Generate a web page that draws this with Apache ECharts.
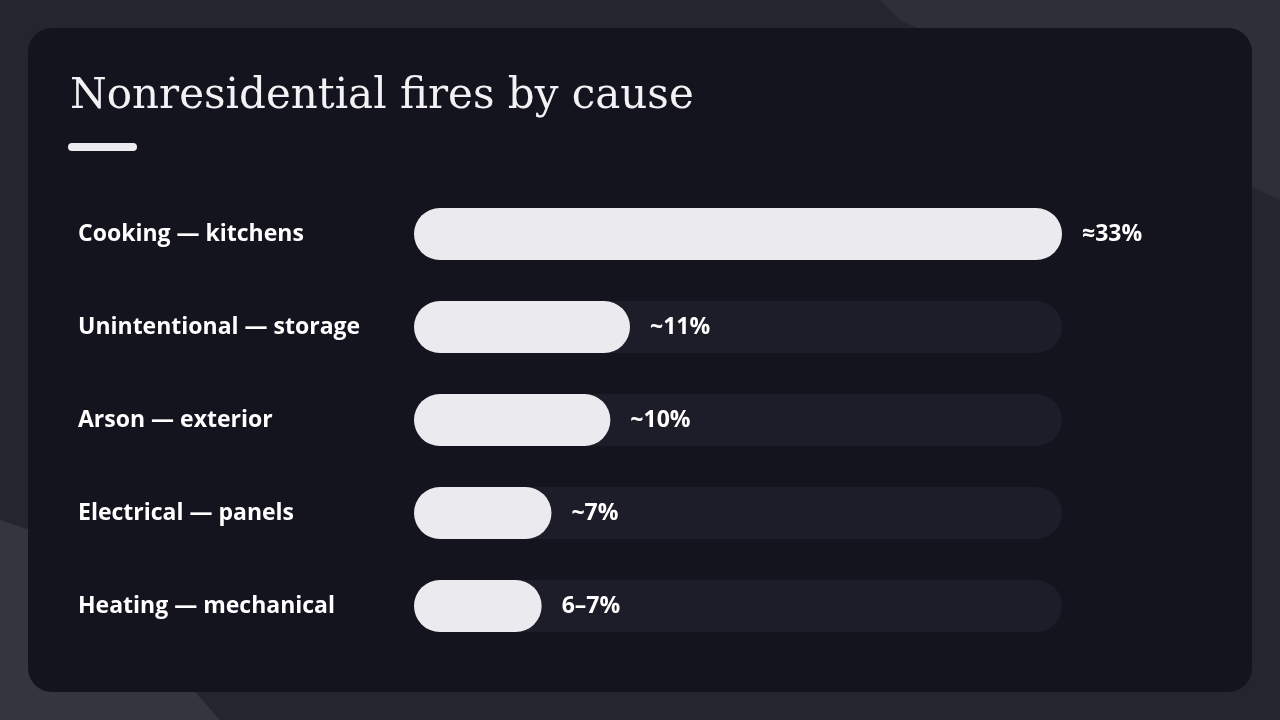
<!DOCTYPE html>
<html><head><meta charset="utf-8">
<script src="https://cdn.jsdelivr.net/npm/echarts@6/dist/echarts.min.js"></script>
<style>
html,body{margin:0;padding:0;background:#24262d;}
#chart{width:1280px;height:720px;}
</style></head>
<body><div id="chart"></div>
<script>
const categories = ['Cooking — kitchens', 'Unintentional — storage', 'Arson — exterior', 'Electrical — panels', 'Heating — mechanical']
const values = [33, 11, 10, 7, 6.5]
const valueLabels = ['≈33%', '~11%', '~10%', '~7%', '6–7%']
const trackMax = 33

const chart = echarts.init(document.getElementById('chart'))
chart.setOption({
  backgroundColor: '#24262d',
  graphic: [
    { type: 'polygon', shape: { points: [[880, 0], [1280, 0], [1280, 200], [900, 20]] }, style: { fill: '#2e3037' }, silent: true },
    { type: 'polygon', shape: { points: [[0, 520], [60, 540], [220, 720], [0, 720]] }, style: { fill: '#34363d' }, silent: true },
    { type: 'rect', shape: { x: 28, y: 28, width: 1224, height: 664, r: 24 }, style: { fill: '#14141f' }, silent: true },
    { type: 'text', left: 70, top: 76, style: { text: 'Nonresidential fires by cause', fill: '#f2f2f5', font: '42px "DejaVu Serif", serif' } },
    { type: 'rect', shape: { x: 68, y: 143, width: 69, height: 8, r: 4 }, style: { fill: '#ececf0' } }
  ],
  grid: { left: 414, right: 218, top: 187.5, bottom: 67.5 },
  xAxis: { type: 'value', min: 0, max: trackMax, show: false },
  yAxis: {
    type: 'category', data: categories, inverse: true,
    axisLine: { show: false }, axisTick: { show: false },
    axisLabel: { align: 'left', margin: 336, color: '#ffffff', fontSize: 23, fontWeight: 'bold', fontFamily: '"Open Sans", sans-serif' }
  },
  series: [
    {
      type: 'bar', data: categories.map(() => trackMax), barWidth: 52, barGap: '-100%',
      itemStyle: { color: '#1d1d29', borderRadius: 26 }, silent: true, z: 1
    },
    {
      type: 'bar', data: values, barWidth: 52, z: 2,
      itemStyle: { color: '#ebebef', borderRadius: 26 },
      label: {
        show: true, position: 'right', distance: 20,
        formatter: p => valueLabels[p.dataIndex],
        color: '#ffffff', fontSize: 23, fontWeight: 'bold', fontFamily: '"Open Sans", sans-serif'
      }
    }
  ]
})
</script></body></html>
